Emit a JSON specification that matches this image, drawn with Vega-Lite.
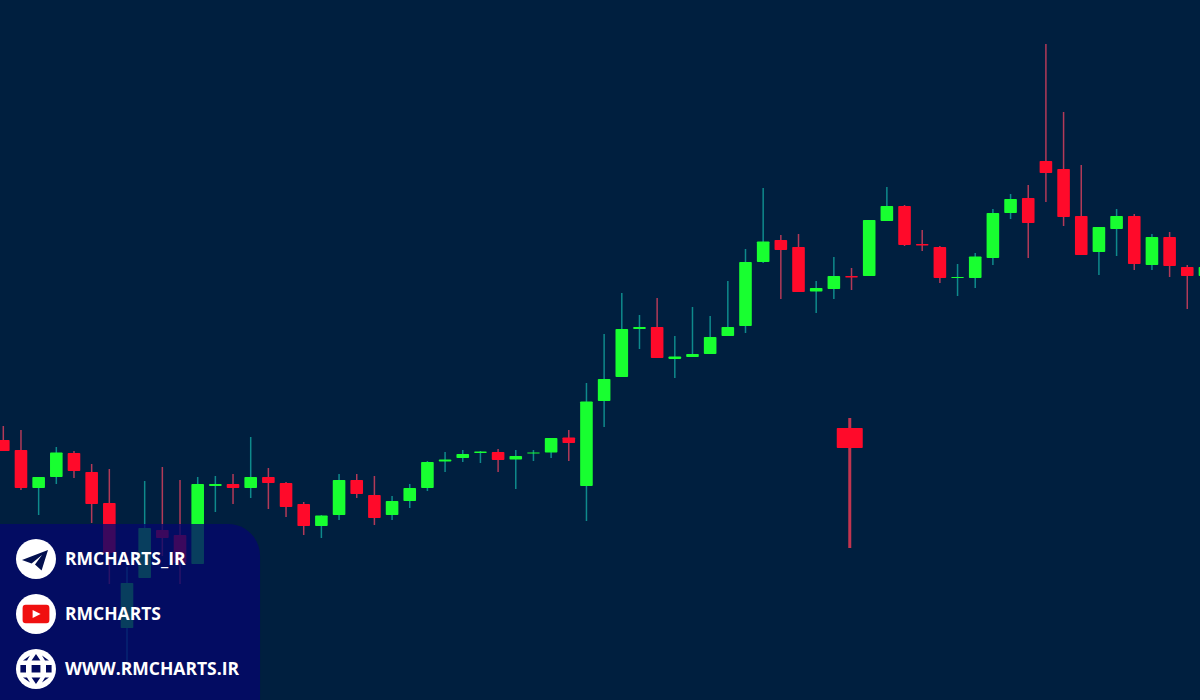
{"$schema":"https://vega.github.io/schema/vega-lite/v6.json","autosize":{"type":"fit","contains":"padding"},"width":1200,"height":700,"padding":0,"background":"#001f3f","config":{"view":{"stroke":null}},
"datasets":{"candles":[
{"t":0,"high":274,"open":260,"close":249,"low":249,"dir":"down"},
{"t":1,"high":270,"open":250,"close":212,"low":210,"dir":"down"},
{"t":2,"high":223,"open":212,"close":223,"low":185,"dir":"up"},
{"t":3,"high":253,"open":223,"close":247.5,"low":216,"dir":"up"},
{"t":4,"high":249,"open":247,"close":229,"low":222,"dir":"down"},
{"t":5,"high":236,"open":228,"close":196,"low":177,"dir":"down"},
{"t":6,"high":231,"open":197,"close":147,"low":116,"dir":"down"},
{"t":7,"high":133,"open":72,"close":117,"low":38,"dir":"up"},
{"t":8,"high":219,"open":122,"close":172,"low":122,"dir":"up"},
{"t":9,"high":233,"open":170,"close":162,"low":144,"dir":"down"},
{"t":10,"high":220,"open":165,"close":137,"low":116,"dir":"down"},
{"t":11,"high":223,"open":136,"close":216,"low":136,"dir":"up"},
{"t":12,"high":224,"open":214,"close":216,"low":188,"dir":"up"},
{"t":13,"high":226,"open":216,"close":212,"low":196,"dir":"down"},
{"t":14,"high":263,"open":212,"close":223,"low":202,"dir":"up"},
{"t":15,"high":232,"open":223,"close":217,"low":191,"dir":"down"},
{"t":16,"high":218,"open":217,"close":193,"low":183,"dir":"down"},
{"t":17,"high":198,"open":196,"close":174,"low":165,"dir":"down"},
{"t":18,"high":185,"open":174,"close":184.5,"low":162,"dir":"up"},
{"t":19,"high":226,"open":185,"close":220,"low":180,"dir":"up"},
{"t":20,"high":226,"open":220,"close":206,"low":202,"dir":"down"},
{"t":21,"high":224,"open":205,"close":182,"low":175,"dir":"down"},
{"t":22,"high":204,"open":185,"close":199,"low":180,"dir":"up"},
{"t":23,"high":216,"open":199,"close":212,"low":192,"dir":"up"},
{"t":24,"high":239,"open":212,"close":238,"low":209,"dir":"up"},
{"t":25,"high":248,"open":238.5,"close":240.5,"low":228,"dir":"up"},
{"t":26,"high":250,"open":242,"close":246,"low":238,"dir":"up"},
{"t":27,"high":249,"open":247,"close":248.5,"low":237,"dir":"up"},
{"t":28,"high":251,"open":248,"close":240,"low":228,"dir":"down"},
{"t":29,"high":250,"open":240.5,"close":244,"low":211,"dir":"up"},
{"t":30,"high":250,"open":246.5,"close":247.5,"low":239,"dir":"up"},
{"t":31,"high":262,"open":247.5,"close":262,"low":242,"dir":"up"},
{"t":32,"high":270,"open":262.5,"close":257,"low":239,"dir":"down"},
{"t":33,"high":317,"open":214,"close":298.5,"low":179,"dir":"up"},
{"t":34,"high":366,"open":299,"close":321,"low":273,"dir":"up"},
{"t":35,"high":407,"open":323,"close":371,"low":323,"dir":"up"},
{"t":36,"high":385,"open":371,"close":373,"low":351,"dir":"up"},
{"t":37,"high":402,"open":373,"close":342,"low":342,"dir":"down"},
{"t":38,"high":364,"open":341,"close":343.5,"low":322,"dir":"up"},
{"t":39,"high":393,"open":343,"close":346,"low":343,"dir":"up"},
{"t":40,"high":384,"open":346,"close":363,"low":346,"dir":"up"},
{"t":41,"high":419,"open":364,"close":373,"low":364,"dir":"up"},
{"t":42,"high":451,"open":374,"close":438,"low":367,"dir":"up"},
{"t":43,"high":512,"open":438,"close":458.5,"low":437,"dir":"up"},
{"t":44,"high":465,"open":460,"close":450,"low":401,"dir":"down"},
{"t":45,"high":466,"open":453,"close":408,"low":408,"dir":"down"},
{"t":46,"high":419,"open":408.5,"close":412,"low":387,"dir":"up"},
{"t":47,"high":443,"open":411,"close":424,"low":401,"dir":"up"},
{"t":48,"high":432,"open":424,"close":422.5,"low":410,"dir":"down"},
{"t":49,"high":480,"open":424,"close":480,"low":424,"dir":"up"},
{"t":50,"high":513,"open":479,"close":494,"low":479,"dir":"up"},
{"t":51,"high":495,"open":494,"close":455,"low":454,"dir":"down"},
{"t":52,"high":470,"open":456,"close":454.5,"low":449,"dir":"down"},
{"t":53,"high":454,"open":453,"close":422,"low":417,"dir":"down"},
{"t":54,"high":436,"open":422,"close":423,"low":404,"dir":"up"},
{"t":55,"high":447,"open":422,"close":443.5,"low":412,"dir":"up"},
{"t":56,"high":491,"open":442,"close":487,"low":435,"dir":"up"},
{"t":57,"high":506,"open":487,"close":501,"low":481,"dir":"up"},
{"t":58,"high":515,"open":502,"close":477,"low":442,"dir":"down"},
{"t":59,"high":656,"open":539,"close":527,"low":498,"dir":"down"},
{"t":60,"high":588,"open":531,"close":483,"low":474,"dir":"down"},
{"t":61,"high":535,"open":484,"close":445,"low":445,"dir":"down"},
{"t":62,"high":473,"open":448,"close":473,"low":425,"dir":"up"},
{"t":63,"high":491,"open":471,"close":484,"low":444,"dir":"up"},
{"t":64,"high":486,"open":484,"close":436,"low":430,"dir":"down"},
{"t":65,"high":466,"open":435,"close":463,"low":430,"dir":"up"},
{"t":66,"high":468,"open":463,"close":434,"low":423,"dir":"down"},
{"t":67,"high":435,"open":433,"close":424,"low":391,"dir":"down"},
{"t":68,"high":435,"open":424,"close":433,"low":424,"dir":"up"}
],
"signal":[{"t":47.9,"high":282,"open":272,"close":252,"low":152}],
"panel":[{"t0":-1,"t1":14.53,"p0":-40,"p1":176}],
"labels":[{"t":3.49,"p":140.5,"label":"RMCHARTS_IR"},{"t":3.49,"p":85.5,"label":"RMCHARTS"},{"t":3.49,"p":30.5,"label":"WWW.RMCHARTS.IR"}],
"icons":[{"t":1.85,"p":141},{"t":1.85,"p":86},{"t":1.85,"p":31}],
"plane":[{"t":1.85,"p":141}],"yt":[{"t":1.85,"p":86}],"globe":[{"t":1.85,"p":31}]},
"encoding":{"x":{"field":"t","type":"quantitative","scale":{"domain":[-0.187,67.72],"nice":false,"zero":false,"padding":0},"axis":null},"y":{"field":"p","type":"quantitative","scale":{"domain":[0,700],"nice":false,"zero":false,"padding":0},"axis":null}},
"layer":[
{"data":{"name":"candles"},"mark":{"type":"rule","strokeWidth":1.5,"clip":true},"encoding":{"y":{"field":"low","type":"quantitative"},"y2":{"field":"high"},"color":{"field":"dir","type":"nominal","scale":{"domain":["up","down"],"range":["#0e8a8c","#b23a58"]},"legend":null}}},
{"data":{"name":"candles"},"mark":{"type":"bar","size":12.6,"clip":true,"cornerRadius":0.8},"encoding":{"y":{"field":"open","type":"quantitative"},"y2":{"field":"close"},"color":{"field":"dir","type":"nominal","scale":{"domain":["up","down"],"range":["#18ff30","#ff0a2a"]},"legend":null}}},
{"data":{"name":"signal"},"mark":{"type":"rule","strokeWidth":3,"color":"#c2344f"},"encoding":{"y":{"field":"low","type":"quantitative"},"y2":{"field":"high"}}},
{"data":{"name":"signal"},"mark":{"type":"bar","size":26,"color":"#ff0a2a","cornerRadius":1},"encoding":{"y":{"field":"open","type":"quantitative"},"y2":{"field":"close"}}},
{"data":{"name":"panel"},"mark":{"type":"rect","color":"#04086c","opacity":0.78,"cornerRadiusTopRight":32,"clip":true},"encoding":{"x":{"field":"t0","type":"quantitative"},"x2":{"field":"t1"},"y":{"field":"p0","type":"quantitative"},"y2":{"field":"p1"}}},
{"data":{"name":"icons"},"mark":{"type":"point","shape":"circle","filled":true,"opacity":1,"color":"#ffffff","size":1600,"strokeWidth":0}},
{"data":{"name":"plane"},"mark":{"type":"point","filled":true,"opacity":1,"color":"#03104f","size":1600,"strokeWidth":0,"shape":"M0.6,-0.45 L-0.7,0.05 L-0.22,0.22 L0.3,-0.2 L-0.05,0.28 L0.28,0.58 Z"}},
{"data":{"name":"yt"},"mark":{"type":"point","filled":true,"opacity":1,"color":"#f01010","size":1600,"strokeWidth":0,"shape":"M-0.52,-0.46 L0.52,-0.46 Q0.67,-0.46 0.67,-0.3 L0.67,0.3 Q0.67,0.46 0.52,0.46 L-0.52,0.46 Q-0.67,0.46 -0.67,0.3 L-0.67,-0.3 Q-0.67,-0.46 -0.52,-0.46 Z"}},
{"data":{"name":"yt"},"mark":{"type":"point","filled":true,"opacity":1,"color":"#ffffff","size":1600,"strokeWidth":0,"shape":"M-0.17,-0.2 L0.23,0 L-0.17,0.2 Z"}},
{"data":{"name":"globe"},"mark":{"type":"point","filled":true,"opacity":1,"color":"#030b60","size":1600,"strokeWidth":0,"shape":"M-0.78,-0.2 L-0.5,-0.2 L-0.5,0.17 L-0.78,0.17 Z M-0.22,-0.2 L0.22,-0.2 L0.22,0.17 L-0.22,0.17 Z M0.5,-0.2 L0.78,-0.2 L0.78,0.17 L0.5,0.17 Z M0,-0.75 L0.22,-0.42 L-0.22,-0.42 Z M0,0.75 L0.22,0.42 L-0.22,0.42 Z M-0.3,-0.68 L-0.45,-0.42 L-0.65,-0.42 Z M0.3,-0.68 L0.45,-0.42 L0.65,-0.42 Z M-0.3,0.68 L-0.45,0.42 L-0.65,0.42 Z M0.3,0.68 L0.45,0.42 L0.65,0.42 Z"}},
{"data":{"name":"labels"},"mark":{"type":"text","align":"left","baseline":"middle","font":"Open Sans","fontWeight":"bold","fontSize":17.5,"color":"#ffffff"},"encoding":{"text":{"field":"label","type":"nominal"}}}
],
"resolve":{"scale":{"color":"independent"}}}
